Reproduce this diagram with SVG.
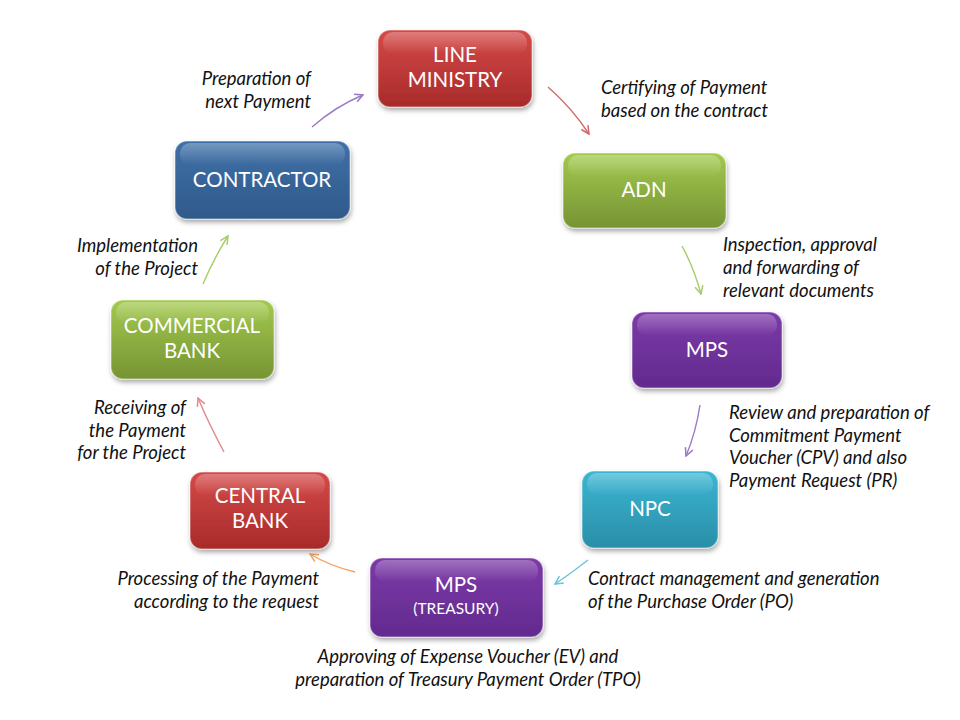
<svg xmlns="http://www.w3.org/2000/svg" width="960" height="720" viewBox="0 0 960 720">
<defs>
  <linearGradient id="gRed" x1="0" y1="0" x2="0" y2="1"><stop offset="0" stop-color="#d44a48"/><stop offset="1" stop-color="#a82a2a"/></linearGradient>
  <linearGradient id="gGreen" x1="0" y1="0" x2="0" y2="1"><stop offset="0" stop-color="#a3c94e"/><stop offset="1" stop-color="#769434"/></linearGradient>
  <linearGradient id="gPurple" x1="0" y1="0" x2="0" y2="1"><stop offset="0" stop-color="#7c3aa8"/><stop offset="1" stop-color="#622a8e"/></linearGradient>
  <linearGradient id="gBlue" x1="0" y1="0" x2="0" y2="1"><stop offset="0" stop-color="#3f70a8"/><stop offset="1" stop-color="#2f5a8a"/></linearGradient>
  <linearGradient id="gCyan" x1="0" y1="0" x2="0" y2="1"><stop offset="0" stop-color="#3bb6d2"/><stop offset="1" stop-color="#2a8ea8"/></linearGradient>
  <linearGradient id="gloss" x1="0" y1="0" x2="0" y2="1"><stop offset="0" stop-color="#ffffff" stop-opacity="0.28"/><stop offset="1" stop-color="#ffffff" stop-opacity="0"/></linearGradient>
  <filter id="sh" x="-10%" y="-10%" width="125%" height="135%"><feDropShadow dx="1" dy="3" stdDeviation="2.5" flood-color="#000" flood-opacity="0.35"/></filter>
  <marker id="mRed" viewBox="0 0 10 10" refX="9" refY="5" markerWidth="10" markerHeight="10" markerUnits="userSpaceOnUse" orient="auto"><path d="M1,1 L9,5 L1,9" fill="none" stroke="#d46a6a" stroke-width="1.5"/></marker>
  <marker id="mGreen" viewBox="0 0 10 10" refX="9" refY="5" markerWidth="10" markerHeight="10" markerUnits="userSpaceOnUse" orient="auto"><path d="M1,1 L9,5 L1,9" fill="none" stroke="#a9cc6a" stroke-width="1.5"/></marker>
  <marker id="mPurple" viewBox="0 0 10 10" refX="9" refY="5" markerWidth="10" markerHeight="10" markerUnits="userSpaceOnUse" orient="auto"><path d="M1,1 L9,5 L1,9" fill="none" stroke="#9a78c4" stroke-width="1.5"/></marker>
  <marker id="mCyan" viewBox="0 0 10 10" refX="9" refY="5" markerWidth="10" markerHeight="10" markerUnits="userSpaceOnUse" orient="auto"><path d="M1,1 L9,5 L1,9" fill="none" stroke="#6cc4dc" stroke-width="1.5"/></marker>
  <marker id="mOrange" viewBox="0 0 10 10" refX="9" refY="5" markerWidth="10" markerHeight="10" markerUnits="userSpaceOnUse" orient="auto"><path d="M1,1 L9,5 L1,9" fill="none" stroke="#f4a060" stroke-width="1.5"/></marker>
  <marker id="mPink" viewBox="0 0 10 10" refX="9" refY="5" markerWidth="10" markerHeight="10" markerUnits="userSpaceOnUse" orient="auto"><path d="M1,1 L9,5 L1,9" fill="none" stroke="#e08a8a" stroke-width="1.5"/></marker>
</defs>
<style>
  .box { filter: url(#sh); stroke: #ffffff; stroke-opacity: 0.35; stroke-width: 1.5; }
  .gl { fill: url(#gloss); }
  .nt { font-family: Lato, "Open Sans", sans-serif; font-size: 20.5px; fill: #ffffff; text-anchor: middle; }
  .ns { font-family: Lato, "Open Sans", sans-serif; font-size: 15.5px; fill: #ffffff; text-anchor: middle; }
  .lb { font-family: Lato, "Open Sans", sans-serif; font-size: 18.5px; font-style: italic; fill: #111111; }
  .r { text-anchor: end; }
  .m { text-anchor: middle; }
  .c { fill: none; stroke-width: 1.4; }
</style>
<rect width="960" height="720" fill="#ffffff"/>

<g id="connectors">
  <path class="c" d="M548,87 Q572,108 589,134" stroke="#d46a6a" marker-end="url(#mRed)"/>
  <path class="c" d="M682,246 Q694,268 701,294" stroke="#a9cc6a" marker-end="url(#mGreen)"/>
  <path class="c" d="M700,405 Q696,432 686,456" stroke="#9a78c4" marker-end="url(#mPurple)"/>
  <path class="c" d="M588,560 Q570,574 555,584" stroke="#6cc4dc" marker-end="url(#mCyan)"/>
  <path class="c" d="M355,572 Q330,566 310,554" stroke="#f4a060" marker-end="url(#mOrange)"/>
  <path class="c" d="M224,452 Q208,422 198,398" stroke="#e08a8a" marker-end="url(#mPink)"/>
  <path class="c" d="M203,284 Q214,258 228,236" stroke="#a9cc6a" marker-end="url(#mGreen)"/>
  <path class="c" d="M312,127 Q336,106 363,95" stroke="#9a78c4" marker-end="url(#mPurple)"/>
</g>

<g id="line-ministry">
  <rect class="box" x="378" y="30" width="154" height="77" rx="12" fill="url(#gRed)"/>
  <rect class="gl" x="383" y="32" width="144" height="22" rx="10"/>
  <text class="nt" x="455" y="62">LINE</text>
  <text class="nt" x="455" y="87">MINISTRY</text>
</g>
<g id="adn">
  <rect class="box" x="563" y="153" width="163" height="75" rx="12" fill="url(#gGreen)"/>
  <rect class="gl" x="568" y="155" width="153" height="22" rx="10"/>
  <text class="nt" x="644" y="197">ADN</text>
</g>
<g id="mps">
  <rect class="box" x="632" y="312" width="150" height="76" rx="12" fill="url(#gPurple)"/>
  <rect class="gl" x="637" y="314" width="140" height="22" rx="10"/>
  <text class="nt" x="707" y="357">MPS</text>
</g>
<g id="npc">
  <rect class="box" x="582" y="471" width="136" height="77" rx="12" fill="url(#gCyan)"/>
  <rect class="gl" x="587" y="473" width="126" height="22" rx="10"/>
  <text class="nt" x="650" y="516">NPC</text>
</g>
<g id="mps-treasury">
  <rect class="box" x="370" y="558" width="173" height="79" rx="12" fill="url(#gPurple)"/>
  <rect class="gl" x="375" y="560" width="163" height="22" rx="10"/>
  <text class="nt" x="456" y="592">MPS</text>
  <text class="ns" x="456" y="614">(TREASURY)</text>
</g>
<g id="central-bank">
  <rect class="box" x="190" y="472" width="140" height="77" rx="12" fill="url(#gRed)"/>
  <rect class="gl" x="195" y="474" width="130" height="22" rx="10"/>
  <text class="nt" x="260" y="503">CENTRAL</text>
  <text class="nt" x="260" y="528">BANK</text>
</g>
<g id="commercial-bank">
  <rect class="box" x="111" y="300" width="163" height="79" rx="12" fill="url(#gGreen)"/>
  <rect class="gl" x="116" y="302" width="153" height="22" rx="10"/>
  <text class="nt" x="192" y="333">COMMERCIAL</text>
  <text class="nt" x="192" y="358">BANK</text>
</g>
<g id="contractor">
  <rect class="box" x="175" y="141" width="175" height="78" rx="12" fill="url(#gBlue)"/>
  <rect class="gl" x="180" y="143" width="165" height="22" rx="10"/>
  <text class="nt" x="262" y="187">CONTRACTOR</text>
</g>

<g id="labels">
  <text class="lb r" x="311" y="85">Preparation of</text>
  <text class="lb r" x="311" y="108">next Payment</text>
  <text class="lb" x="601" y="94">Certifying of Payment</text>
  <text class="lb" x="601" y="117">based on the contract</text>
  <text class="lb" x="723" y="251">Inspection, approval</text>
  <text class="lb" x="723" y="274">and forwarding of</text>
  <text class="lb" x="723" y="297">relevant documents</text>
  <text class="lb" x="729" y="419">Review and preparation of</text>
  <text class="lb" x="729" y="442">Commitment Payment</text>
  <text class="lb" x="729" y="464">Voucher (CPV) and also</text>
  <text class="lb" x="729" y="487">Payment Request (PR)</text>
  <text class="lb" x="588" y="585">Contract management and generation</text>
  <text class="lb" x="588" y="608">of the Purchase Order (PO)</text>
  <text class="lb m" x="468" y="663">Approving of Expense Voucher (EV) and</text>
  <text class="lb m" x="468" y="686">preparation of Treasury Payment Order (TPO)</text>
  <text class="lb r" x="319" y="585">Processing of the Payment</text>
  <text class="lb r" x="319" y="608">according to the request</text>
  <text class="lb r" x="186" y="414">Receiving of</text>
  <text class="lb r" x="186" y="437">the Payment</text>
  <text class="lb r" x="186" y="459">for the Project</text>
  <text class="lb r" x="198" y="252">Implementation</text>
  <text class="lb r" x="198" y="275">of the Project</text>
</g>
</svg>
